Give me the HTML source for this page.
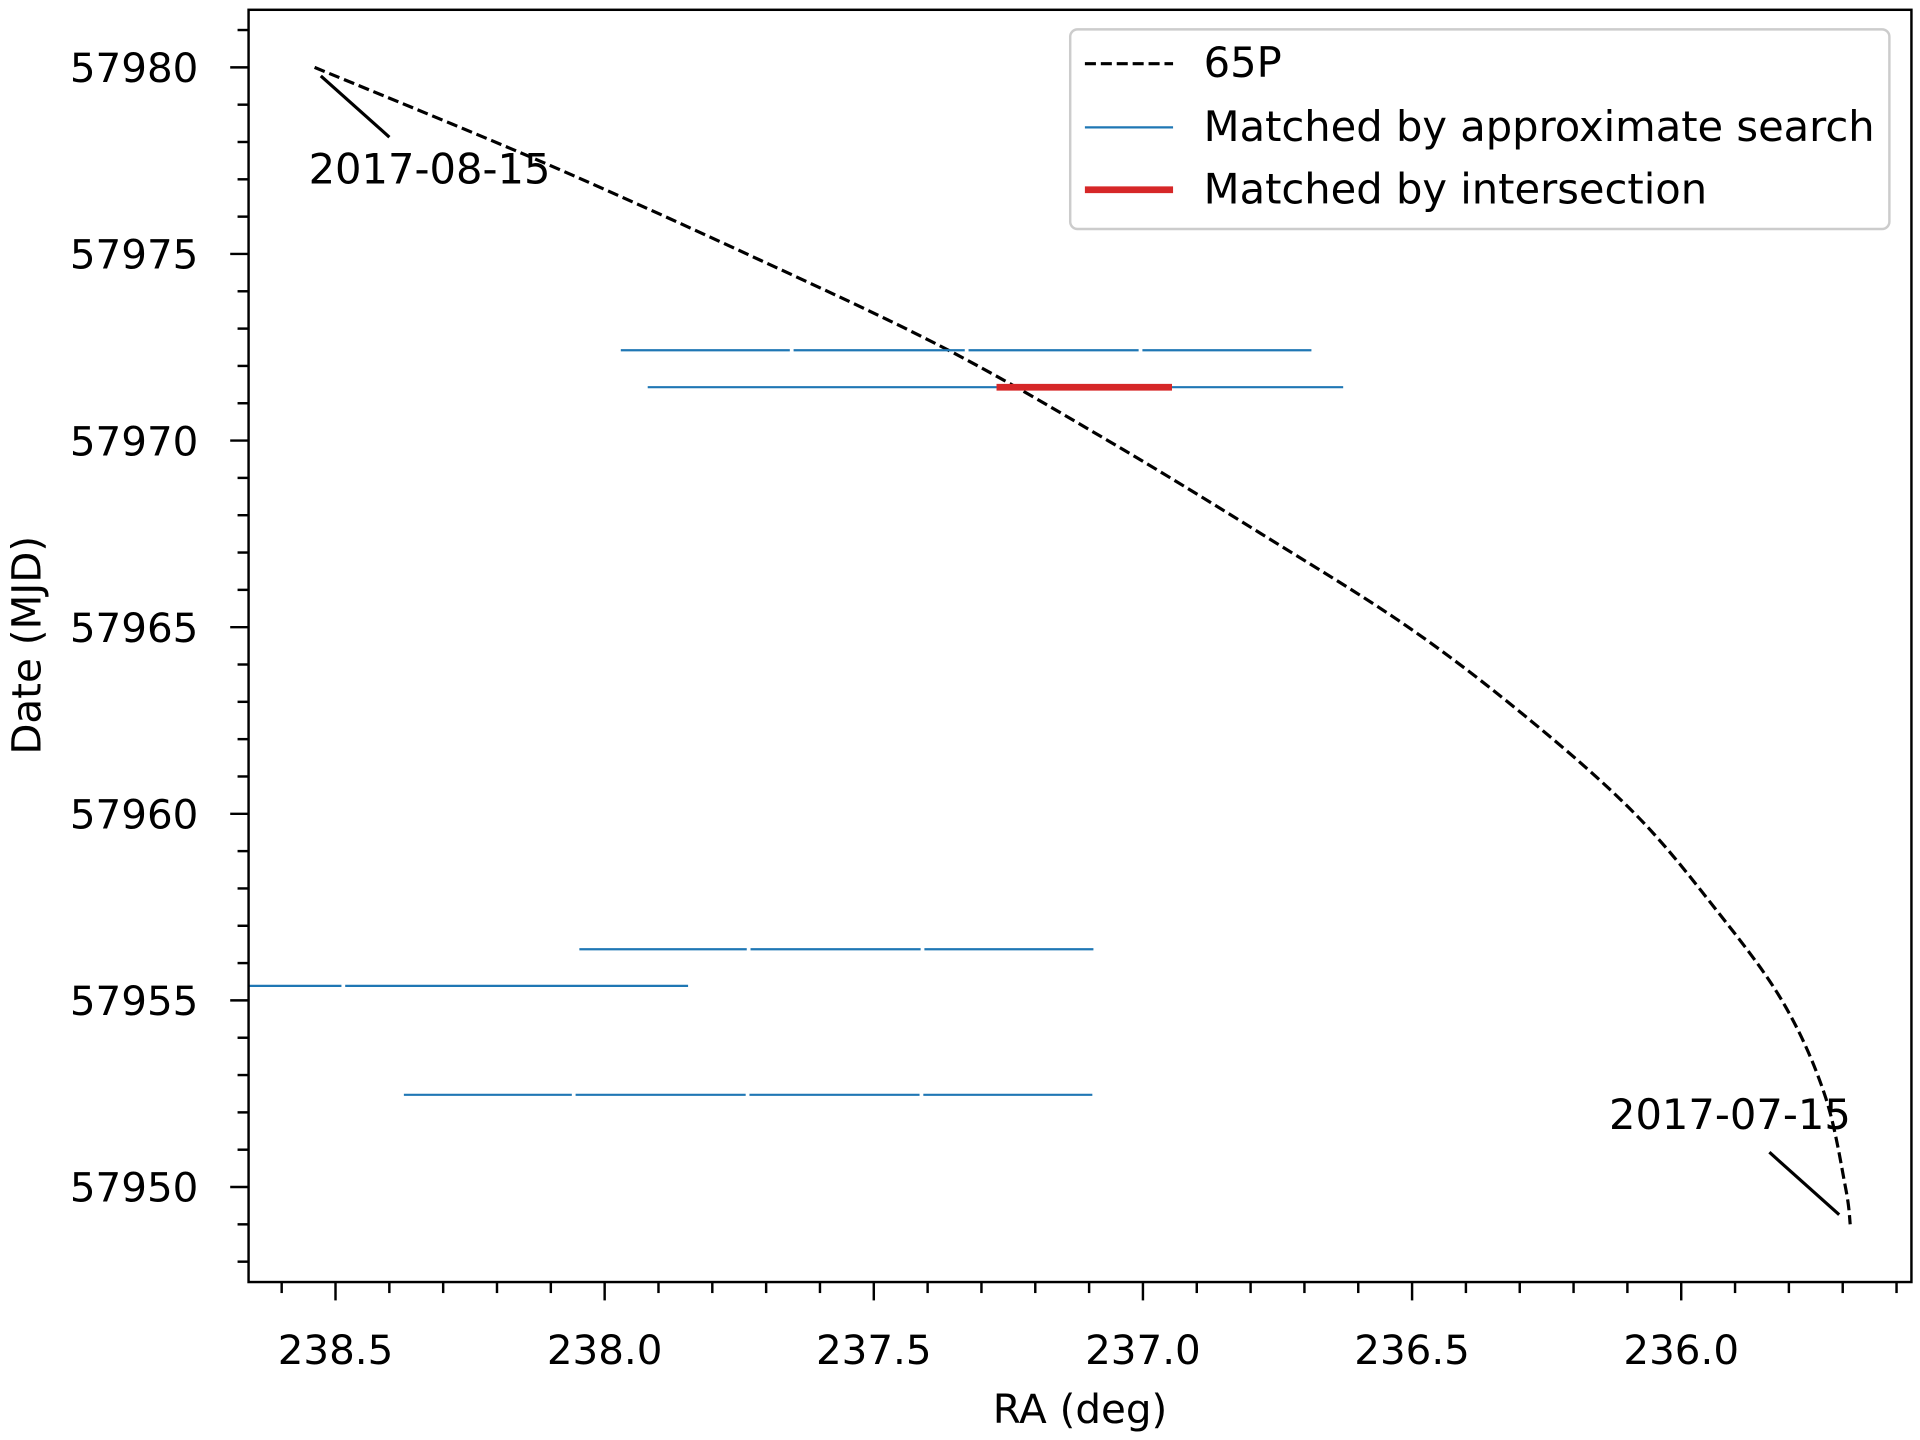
<!DOCTYPE html>
<html><head><meta charset="utf-8"><style>
html,body{margin:0;padding:0;background:#fff;}
svg{display:block;font-family:"DejaVu Sans","Liberation Sans",sans-serif;}
</style></head><body>
<svg id="chart" width="1920" height="1440" viewBox="0 0 1568 1176" xmlns="http://www.w3.org/2000/svg" style="position:absolute;left:0;top:0">
<rect x="0" y="0" width="1568" height="1176" fill="#fff"/>
<g id="plot"></g>
</svg>
<script>
const xTicks=[238.5,238.0,237.5,237.0,236.5,236.0];
const xTickLabels=["238.5","238.0","237.5","237.0","236.5","236.0"];
const yTicks=[57950,57955,57960,57965,57970,57975,57980];
const yTickLabels=["57950","57955","57960","57965","57970","57975","57980"];
const orbitRA=[238.539,238.122,237.736,237.372,237.065,236.780,236.507,236.280,236.086,235.939,235.813,235.734,235.695,235.686];
const orbitMJD=[57980,57977.5,57975,57972.5,57970,57967.5,57965,57962.5,57960,57957.5,57955,57952.5,57950,57949];
const approxStart=[237.970,237.649,237.324,237.001,237.920,238.047,237.729,237.406,238.662,238.482,238.373,238.054,237.731,237.408];
const approxEnd=[237.656,237.331,237.008,236.687,236.628,237.736,237.413,237.092,238.489,237.845,238.061,237.738,237.415,237.094];
const approxMJD=[57972.42,57972.42,57972.42,57972.42,57971.43,57956.37,57956.37,57956.37,57955.39,57955.39,57952.47,57952.47,57952.47,57952.47];
const interStart=[237.272];
const interEnd=[236.946];
const interMJD=[57971.43];

const L=203,R=1561,T=8,B=1047;
const x=ra=>274+(238.5-ra)*439.6;
const y=d=>55+(57980-d)*30.48;
const NS="http://www.w3.org/2000/svg";
const g=document.getElementById('plot');
function mk(tag,attrs,parent){const e=document.createElementNS(NS,tag);for(const k in attrs)e.setAttribute(k,attrs[k]);(parent||g).appendChild(e);return e;}

const P=orbitRA.map((r,i)=>[x(r),y(orbitMJD[i])]);
let d="M"+P[0][0].toFixed(1)+","+P[0][1].toFixed(1);
for(let i=0;i<P.length-1;i++){
 const p0=P[Math.max(0,i-1)],p1=P[i],p2=P[i+1],p3=P[Math.min(P.length-1,i+2)];
 const c1=[p1[0]+(p2[0]-p0[0])/6,p1[1]+(p2[1]-p0[1])/6];
 const c2=[p2[0]-(p3[0]-p1[0])/6,p2[1]-(p3[1]-p1[1])/6];
 d+="C"+c1.map(v=>v.toFixed(1)).join(",")+" "+c2.map(v=>v.toFixed(1)).join(",")+" "+p2.map(v=>v.toFixed(1)).join(",");
}
const orb=mk('path',{d:d,fill:"none",stroke:"#000","stroke-width":2.6,"stroke-dasharray":"9,4"});


approxStart.forEach((s,i)=>{
 const l=mk('line',{x1:x(s),x2:x(approxEnd[i]),y1:y(approxMJD[i]),y2:y(approxMJD[i]),stroke:"#1f77b4","stroke-width":1.8});
 
 
});
interStart.forEach((s,i)=>{
 const l=mk('line',{x1:x(s),x2:x(interEnd[i]),y1:y(interMJD[i]),y2:y(interMJD[i]),stroke:"#d62728","stroke-width":5.5});
 
 
});
const fr=mk('rect',{x:L,y:T,width:R-L,height:B-T,fill:"none",stroke:"#000","stroke-width":2});


for(let k=0;k<=31;k++){const r=238.6-k*0.1;const px=x(r);if(px<L||px>R)continue;
 const major=Math.abs(Math.round(r*2)-r*2)<1e-6;
 mk('line',{x1:px,x2:px,y1:B,y2:B+(major?15:9),stroke:"#000","stroke-width":2});}
xTicks.forEach((v,i)=>{const t=mk('text',{x:x(v),y:1114,"text-anchor":"middle","font-size":33});t.textContent=xTickLabels[i];
 
 });
for(let dd=57948;dd<=57981;dd++){const py=y(dd);const major=dd%5===0;
 mk('line',{x1:L,x2:L-(major?15:9),y1:py,y2:py,stroke:"#000","stroke-width":2});}
yTicks.forEach((v,i)=>{const t=mk('text',{x:162,y:y(v)+12,"text-anchor":"end","font-size":33});t.textContent=yTickLabels[i];
 
 });
</script>
<svg style="position:absolute;left:0;top:0" width="1920" height="1440" viewBox="0 0 1568 1176" xmlns="http://www.w3.org/2000/svg" font-family="DejaVu Sans, Liberation Sans, sans-serif">
<text x="882" y="1162" text-anchor="middle" font-size="33">RA (deg)</text>
<text transform="translate(33,527) rotate(-90)" text-anchor="middle" font-size="33">Date (MJD)</text>
<line x1="262" y1="62" x2="318" y2="112" stroke="#000" stroke-width="2.6"/>
<text x="252" y="150" font-size="34">2017-08-15</text>
<line x1="1445" y1="941" x2="1502" y2="992" stroke="#000" stroke-width="2.6"/>
<text x="1314" y="922" font-size="34">2017-07-15</text>
<g>
<rect x="874" y="24" width="669" height="163" rx="6" fill="#fff" fill-opacity="0.85" stroke="#ccc" stroke-width="2"/>
<line x1="886" x2="958" y1="52" y2="52" stroke="#000" stroke-width="2.6" stroke-dasharray="9,4"/>
<text x="983" y="63" font-size="34">65P</text>
<line x1="886" x2="958" y1="104" y2="104" stroke="#1f77b4" stroke-width="1.8"/>
<text x="983" y="115" font-size="34">Matched by approximate search</text>
<line x1="886" x2="958" y1="155" y2="155" stroke="#d62728" stroke-width="5.5"/>
<text x="983" y="166" font-size="34">Matched by intersection</text>
</g>
</svg>
</body></html>
